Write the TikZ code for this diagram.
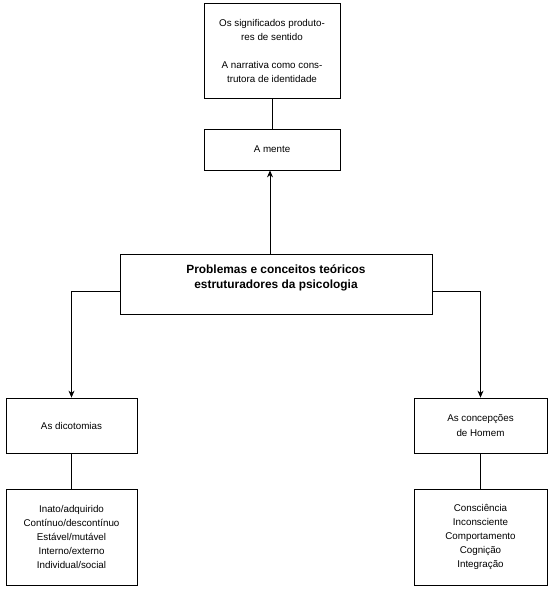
\documentclass[tikz,border=0pt]{standalone}
\usepackage{fontspec}
\setmainfont{Liberation Sans}
\usetikzlibrary{arrows.meta}

\begin{document}
\begin{tikzpicture}[x=1pt, y=-1pt,
    box/.style={draw, line width=0.8pt, align=center, inner sep=0pt,
      font=\fontsize{9.8}{14}\selectfont},
    link/.style={line width=0.8pt},
    arr/.style={line width=0.8pt, -{Stealth[length=7pt, width=6pt]}}]
  \useasboundingbox (0, 0) rectangle (556, 598);

  \node[box, minimum width=136pt, minimum height=95pt] (sig) at (272, 50.5)
    {Os significados produto-\\res de sentido\\[14pt]A narrativa como cons-\\trutora de identidade};
  \node[box, minimum width=136pt, minimum height=41pt] (mente) at (272, 149.5) {A mente};

  \node[box, minimum width=312pt, minimum height=60pt,
    font=\fontsize{11.9}{15}\selectfont\bfseries] (prob) at (276, 284)
    {Problemas e conceitos teóricos\\estruturadores da psicologia\\ \mbox{}};

  \node[box, minimum width=131pt, minimum height=55pt] (dic) at (71.5, 425.5) {As dicotomias};
  \node[box, minimum width=131pt, minimum height=96pt] (dicl) at (71.5, 537)
    {Inato/adquirido\\Contínuo/descontínuo\\Estável/mutável\\Interno/externo\\Individual/social};

  \node[box, minimum width=133pt, minimum height=55pt,
    font=\fontsize{9.8}{15.5}\selectfont] (hom) at (480.5, 425.5) {As concepções\\de Homem};
  \node[box, minimum width=133pt, minimum height=96pt] (homl) at (480.5, 537)
    {Consciência\\Inconsciente\\Comportamento\\Cognição\\Integração};

  \draw[link] (sig) -- (mente);
  \draw[arr] ([xshift=-2pt]mente.south |- prob.north) -- ([xshift=-2pt]mente.south);
  \draw[arr] ([yshift=-7pt]prob.west) -| (dic.north);
  \draw[arr] ([yshift=-7pt]prob.east) -| (hom.north);
  \draw[link] (dic) -- (dicl);
  \draw[link] (hom) -- (homl);
\end{tikzpicture}
\end{document}
